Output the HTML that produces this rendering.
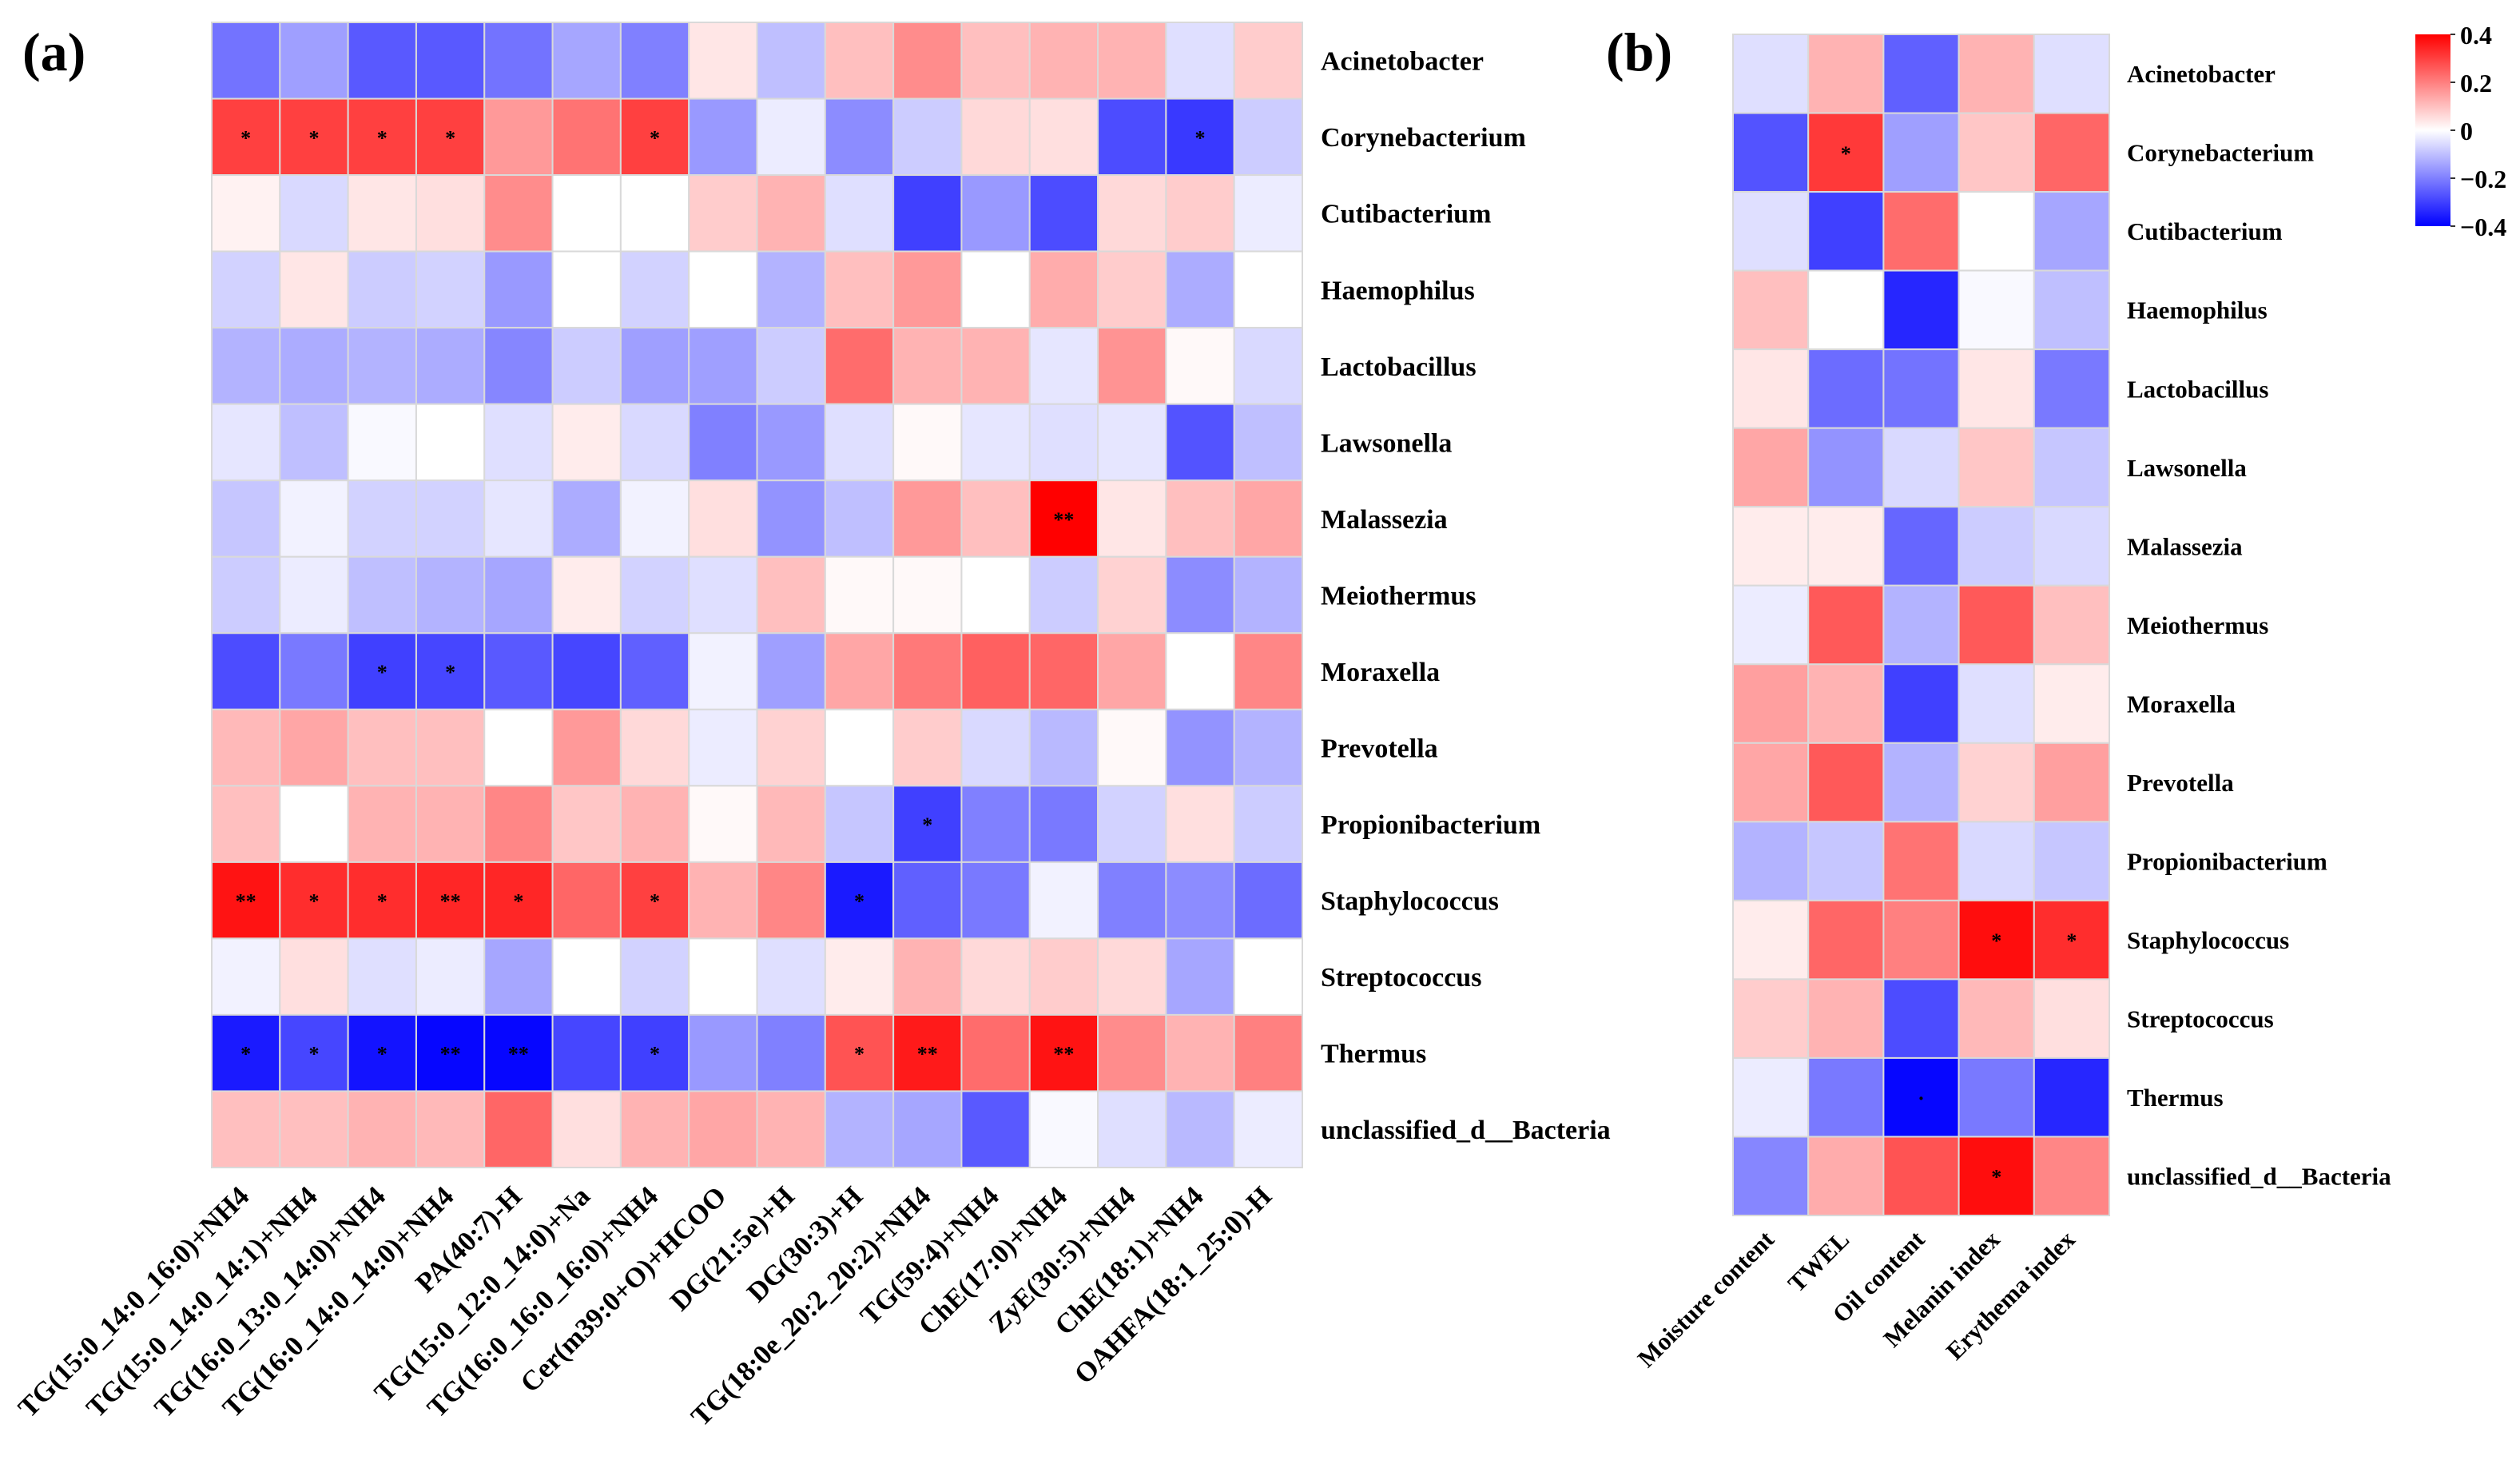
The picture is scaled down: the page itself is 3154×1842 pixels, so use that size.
<!DOCTYPE html>
<html><head><meta charset="utf-8">
<style>
html,body{margin:0;padding:0;background:#fff;}
svg{display:block;}
text{font-family:"Liberation Serif",serif;fill:#000;}
</style></head>
<body>
<svg id="fig" width="3154" height="1842" viewBox="0 0 3154 1842" xmlns="http://www.w3.org/2000/svg">
<text x="28" y="88" font-size="68" font-weight="bold">(a)</text>
<text x="2010" y="88" font-size="68" font-weight="bold">(b)</text>
<defs>
<linearGradient id="cbg" x1="0" y1="0" x2="0" y2="1">
<stop offset="0" stop-color="#ff0000"/><stop offset="0.5" stop-color="#ffffff"/><stop offset="1" stop-color="#0000ff"/>
</linearGradient>
</defs>
<g id="ga"></g>
<g id="gb"></g>
<g id="cb"></g>
</svg>
<script>
const genera = ["Acinetobacter","Corynebacterium","Cutibacterium","Haemophilus","Lactobacillus","Lawsonella","Malassezia","Meiothermus","Moraxella","Prevotella","Propionibacterium","Staphylococcus","Streptococcus","Thermus","unclassified_d__Bacteria"];
const lipids = ["TG(15:0_14:0_16:0)+NH4","TG(15:0_14:0_14:1)+NH4","TG(16:0_13:0_14:0)+NH4","TG(16:0_14:0_14:0)+NH4","PA(40:7)-H","TG(15:0_12:0_14:0)+Na","TG(16:0_16:0_16:0)+NH4","Cer(m39:0+O)+HCOO","DG(21:5e)+H","DG(30:3)+H","TG(18:0e_20:2_20:2)+NH4","TG(59:4)+NH4","ChE(17:0)+NH4","ZyE(30:5)+NH4","ChE(18:1)+NH4","OAHFA(18:1_25:0)-H"];
const skinIdx = ["Moisture content","TWEL","Oil content","Melanin index","Erythema index"];
const valuesA = [
[-0.22,-0.15,-0.26,-0.26,-0.22,-0.14,-0.2,0.04,-0.1,0.1,0.18,0.1,0.12,0.12,-0.05,0.08],
[0.3,0.3,0.3,0.3,0.16,0.22,0.3,-0.16,-0.03,-0.18,-0.08,0.06,0.05,-0.28,-0.31,-0.08],
[0.02,-0.06,0.04,0.05,0.18,0.0,0.0,0.08,0.12,-0.05,-0.3,-0.16,-0.28,0.06,0.08,-0.03],
[-0.07,0.04,-0.08,-0.07,-0.16,0.0,-0.07,0.0,-0.12,0.1,0.16,0.0,0.13,0.08,-0.13,0.0],
[-0.12,-0.13,-0.12,-0.13,-0.19,-0.08,-0.15,-0.15,-0.08,0.23,0.12,0.12,-0.04,0.17,0.01,-0.06],
[-0.04,-0.1,-0.01,0.0,-0.05,0.03,-0.06,-0.2,-0.16,-0.05,0.01,-0.04,-0.05,-0.04,-0.27,-0.1],
[-0.09,-0.02,-0.07,-0.07,-0.04,-0.13,-0.02,0.05,-0.17,-0.1,0.16,0.1,0.4,0.04,0.1,0.14],
[-0.08,-0.03,-0.1,-0.12,-0.14,0.03,-0.07,-0.05,0.1,0.01,0.01,0.0,-0.08,0.07,-0.18,-0.12],
[-0.28,-0.21,-0.3,-0.29,-0.26,-0.29,-0.25,-0.02,-0.15,0.14,0.21,0.25,0.24,0.14,0.0,0.19],
[0.11,0.14,0.1,0.1,0.0,0.16,0.06,-0.03,0.07,0.0,0.08,-0.06,-0.11,0.01,-0.17,-0.12],
[0.1,0.0,0.12,0.12,0.19,0.09,0.12,0.01,0.11,-0.09,-0.3,-0.2,-0.21,-0.07,0.05,-0.08],
[0.37,0.33,0.33,0.34,0.34,0.24,0.3,0.12,0.19,-0.36,-0.25,-0.21,-0.02,-0.2,-0.18,-0.23],
[-0.02,0.05,-0.05,-0.03,-0.14,0.0,-0.07,0.0,-0.05,0.03,0.12,0.06,0.08,0.06,-0.14,0.0],
[-0.36,-0.29,-0.37,-0.39,-0.39,-0.29,-0.3,-0.16,-0.2,0.27,0.36,0.23,0.37,0.18,0.12,0.2],
[0.1,0.1,0.12,0.11,0.24,0.05,0.12,0.14,0.12,-0.12,-0.14,-0.26,-0.01,-0.05,-0.11,-0.03]];
const starsA = [
["","","","","","","","","","","","","","","",""],
["*","*","*","*","","","*","","","","","","","","*",""],
["","","","","","","","","","","","","","","",""],
["","","","","","","","","","","","","","","",""],
["","","","","","","","","","","","","","","",""],
["","","","","","","","","","","","","","","",""],
["","","","","","","","","","","","","**","","",""],
["","","","","","","","","","","","","","","",""],
["","","*","*","","","","","","","","","","","",""],
["","","","","","","","","","","","","","","",""],
["","","","","","","","","","","*","","","","",""],
["**","*","*","**","*","","*","","","*","","","","","",""],
["","","","","","","","","","","","","","","",""],
["*","*","*","**","**","","*","","","*","**","","**","","",""],
["","","","","","","","","","","","","","","",""]];
const valuesB = [
[-0.05,0.12,-0.25,0.12,-0.05],
[-0.27,0.31,-0.15,0.09,0.24],
[-0.05,-0.3,0.23,0.0,-0.14],
[0.1,0.0,-0.34,-0.01,-0.1],
[0.04,-0.23,-0.22,0.04,-0.21],
[0.14,-0.17,-0.06,0.09,-0.09],
[0.03,0.03,-0.24,-0.08,-0.06],
[-0.03,0.26,-0.12,0.26,0.1],
[0.15,0.12,-0.3,-0.05,0.03],
[0.14,0.26,-0.12,0.07,0.15],
[-0.12,-0.09,0.22,-0.06,-0.09],
[0.03,0.24,0.2,0.38,0.33],
[0.08,0.12,-0.28,0.11,0.05],
[-0.03,-0.21,-0.39,-0.21,-0.34],
[-0.19,0.13,0.27,0.38,0.19]];
const starsB = [
["","","","",""],["","*","","",""],["","","","",""],["","","","",""],["","","","",""],
["","","","",""],["","","","",""],["","","","",""],["","","","",""],["","","","",""],
["","","","",""],["","","","*","*"],["","","","",""],["","","·","",""],["","","","*",""]];
const cbTicks = [0.4,0.2,0,-0.2,-0.4];
const cbLabels = ["0.4","0.2","0","\u22120.2","\u22120.4"];

const NS="http://www.w3.org/2000/svg";
function mk(tag,attrs,parent){const e=document.createElementNS(NS,tag);for(const k in attrs)e.setAttribute(k,attrs[k]);parent.appendChild(e);return e;}
function color(v){
  let t=Math.max(-1,Math.min(1,v/0.4));
  let r,g,b;
  if(t>=0){r=255;g=Math.round(255*(1-t));b=g;}else{b=255;r=Math.round(255*(1+t));g=r;}
  return `rgb(${r},${g},${b})`;
}
function drawHeat(g,vals,stars,rows,cols,x0,y0,x1,y1,rowLabX,rowFs,colFs,colDy,prefix){
  const cw=(x1-x0)/cols.length, ch=(y1-y0)/rows.length;
  const xs=i=>x0+i*cw, ys=j=>y0+j*ch;
  vals.forEach((row,j)=>row.forEach((v,i)=>{
    const r=mk('rect',{x:xs(i),y:ys(j),width:cw,height:ch,fill:color(v),stroke:'#d9d9d9','stroke-width':2},g);
    
    
    const s=stars[j][i];
    if(s){const t=mk('text',{x:xs(i)+cw/2,y:ys(j)+ch/2+10,'font-size':26,'text-anchor':'middle','font-weight':'bold'},g);t.textContent=s;
      
      }
  }));
  rows.forEach((n,j)=>{const t=mk('text',{x:rowLabX,y:ys(j)+ch/2+rowFs*0.35,'font-size':rowFs,'font-weight':'bold'},g);t.textContent=n;
    
    });
  cols.forEach((n,i)=>{const cx=xs(i)+cw/2+6, cy=y1+colDy;
    const t=mk('text',{x:cx,y:cy,'font-size':colFs,'font-weight':'bold','text-anchor':'end',transform:`rotate(-45 ${cx} ${cy})`},g);t.textContent=n;
    
    });
}
drawHeat(document.getElementById('ga'),valuesA,starsA,genera,lipids,265,28,1630,1461,1653,34,35,38,'a');
drawHeat(document.getElementById('gb'),valuesB,starsB,genera,skinIdx,2169,43,2640,1521,2662,31,31,32,'b');
// colorbar
const cb=document.getElementById('cb');
const cbx=3023,cbw=44,cbTop=43,cbBot=283;
const cy=v=>cbTop+(0.4-v)/0.8*(cbBot-cbTop);
const bar=mk('rect',{x:cbx,y:cbTop,width:cbw,height:cbBot-cbTop,fill:'url(#cbg)'},cb);


cbTicks.forEach((v,k)=>{
  mk('line',{x1:cbx+cbw,x2:cbx+cbw+6,y1:cy(v),y2:cy(v),stroke:'#333','stroke-width':2},cb);
  const t=mk('text',{x:cbx+cbw+12,y:cy(v)+12,'font-size':32,'font-weight':'bold'},cb);t.textContent=cbLabels[k];
  
  
});
</script>
</body></html>
